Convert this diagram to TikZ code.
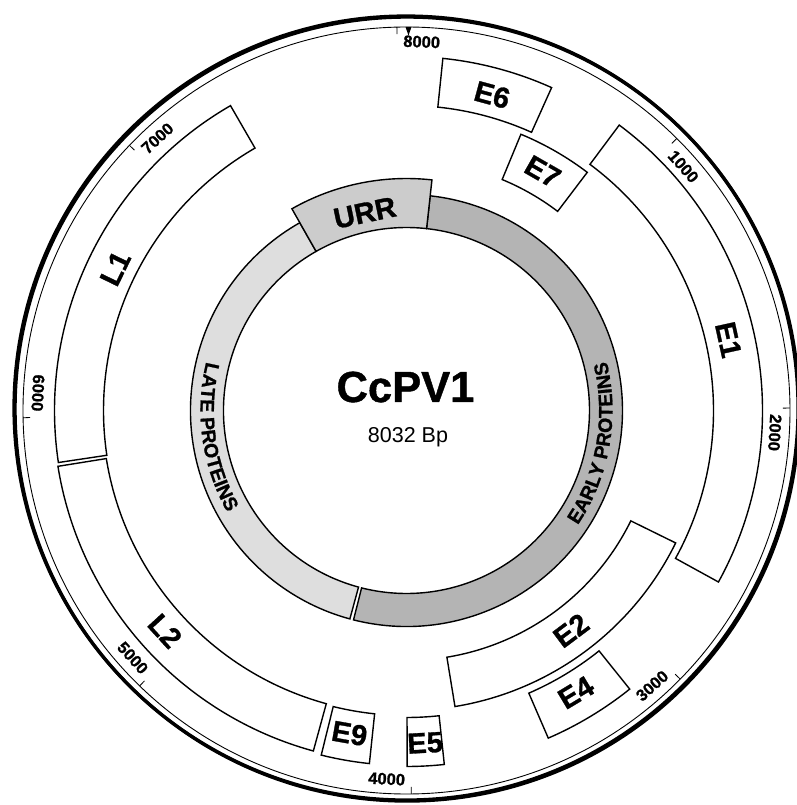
\documentclass[tikz,border=0pt]{standalone}
\usepackage{fontspec}
\setmainfont{Liberation Sans}
\newfontfamily\heavyfont{Liberation Sans}[BoldFeatures={FakeBold=1}]
\usetikzlibrary{decorations.text}
\definecolor{lategray}{HTML}{DEDEDE}
\definecolor{urrgray}{HTML}{CCCCCC}
\definecolor{earlygray}{HTML}{B4B4B4}
\newcommand\ringfont{\heavyfont\bfseries\fontsize{19.5}{19.5}\selectfont}
% #1 start (deg clockwise from top), #2 end, #3 inner r, #4 outer r, #5 style
\newcommand\genebox[5]{\draw[#5] ({90-(#1)}:#3) arc[start angle={90-(#1)}, end angle={90-(#2)}, radius=#3] -- ({90-(#2)}:#4) arc[start angle={90-(#2)}, end angle={90-(#1)}, radius=#4] -- cycle;}
\begin{document}
\begin{tikzpicture}[x=1pt,y=1pt,
  genelabel/.style={font=\heavyfont\bfseries\fontsize{29}{29}\selectfont, inner sep=0},
  ticklabel/.style={font=\heavyfont\bfseries\fontsize{16.5}{16.5}\selectfont, inner sep=0},
  gbox/.style={draw=black, line width=1.4pt, fill=white, line join=miter},
  ringbox/.style={draw=black, line width=1.4pt}]
\useasboundingbox (-406.5,-394.5) rectangle (389.5,410.5);
\fill[white] (-406.5,-394.5) rectangle (389.5,410.5);
% outer circles
\draw[line width=3.2pt] (-0.5,2.5) circle[radius=392];
\draw[line width=3.2pt] (0.6,1.4) circle[radius=392];
\draw[line width=0.9pt] (0,0) circle[radius=383.5];
% origin marker and ticks
\fill (-1,383.5) -- (5,383.5) -- (2,375) -- cycle;
\foreach \p in {1000,2000,3000,4000,5000,6000,7000,8000} {
  \pgfmathsetmacro\th{\p/8032*360}
  \pgfmathsetmacro\tl{\th+3.8}
  \pgfmathsetmacro\rot{ifthenelse(and(\th>90,\th<270),180-\tl,-\tl)}
  \draw[line width=0.8pt] ({90-\th}:383.5) -- ({90-\th}:376.5);
  \node[ticklabel, rotate=\rot] (t\p) at ({90-\tl}:369) {\p};
}
% inner ring
\genebox{195.2}{330.4}{183}{216}{ringbox, fill=lategray}
\genebox{6.3}{194.2}{183}{216}{ringbox, fill=earlygray}
\genebox{330.4}{366.3}{183}{232}{ringbox, fill=urrgray}
\node[genelabel, rotate=11.9] (urr) at ({90-348.1}:202) {URR};
\path[decorate, decoration={text along path, text align=center, text={|\ringfont|LATE PROTEINS}}] (153:206) arc[start angle=153, end angle=223, radius=206];
\path[decorate, decoration={text along path, text align=center, text={|\ringfont|EARLY PROTEINS}}] (-45:206) arc[start angle=-45, end angle=25, radius=206];
% genes
\genebox{261.5}{330}{303}{352}{gbox}
\genebox{195.3}{260.9}{304}{353}{gbox}
\genebox{36.7}{118.8}{307}{356}{gbox}
\genebox{5.9}{24.2}{305}{354}{gbox}
\genebox{22.5}{37.2}{250}{299}{gbox}
\genebox{116.2}{170.7}{250}{300}{gbox}
\genebox{141.3}{156.6}{308}{357}{gbox}
\genebox{173.9}{179.9}{307}{356}{gbox}
\genebox{186}{193.9}{305}{355}{gbox}
\node[genelabel, rotate=64] (l1) at ({90-296}:324) {L1};
\node[genelabel, rotate=-47.6] (l2) at ({90-227.6}:327) {L2};
\node[genelabel, rotate=-77.6] (e1) at ({90-77.6}:329.6) {E1};
\node[genelabel, rotate=36.8] (e2) at ({90-143.2}:274.7) {E2};
\node[genelabel, rotate=31] (e4) at ({90-149}:329) {E4};
\node[genelabel, rotate=3.2] (e5) at ({90-176.8}:333) {E5};
\node[genelabel, rotate=-10] (e9) at ({90-190}:328) {E9};
\node[genelabel, rotate=-15.2] (e6) at ({90-15.2}:327) {E6};
\node[genelabel, rotate=-29.7] (e7) at ({90-29.7}:275) {E7};
% centre
\node[font=\heavyfont\bfseries\fontsize{43.5}{43.5}\selectfont, inner sep=0, anchor=base] (title) at (-1,8.5) {CcPV1};
\node[font=\fontsize{21.5}{21.5}\selectfont, inner sep=0, anchor=base] (size) at (1.5,-32.5) {8032 Bp};
\end{tikzpicture}
\end{document}
